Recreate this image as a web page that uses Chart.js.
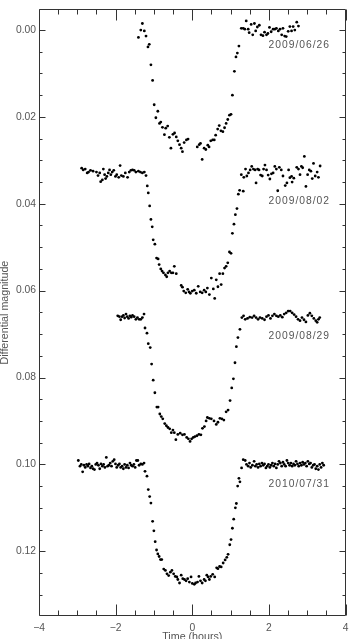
<!DOCTYPE html>
<html><head><meta charset="utf-8">
<script src="https://cdn.jsdelivr.net/npm/chart.js@4.4.1/dist/chart.umd.min.js"></script>
<style>html,body{margin:0;padding:0;background:#fff;overflow:hidden}canvas{display:block}</style>
</head><body>
<canvas id="c" width="354" height="639"></canvas>
<script>
// ---- Data (time from mid-transit in hours, differential magnitude) ----
const t0626 = [-1.406,-1.344,-1.303,-1.252,-1.208,-1.157,-1.123,-1.080,-1.036,-0.995,-0.951,-0.900,-0.856,-0.823,-0.779,-0.728,-0.694,-0.643,-0.599,-0.558,-0.506,-0.463,-0.419,-0.378,-0.334,-0.290,-0.257,-0.213,-0.154,-0.111,
  0.129,0.180,0.213,0.257,0.308,0.352,0.404,0.437,0.481,0.532,0.573,0.609,0.661,0.702,0.746,0.797,0.841,0.882,0.925,0.969,1.010,1.046,1.098,1.139,1.175,1.216,1.278,1.329,1.370,1.406,1.458,1.483,1.535,1.576,1.620,1.653,1.697,1.748,1.792,1.843,1.884,1.936,1.972,2.013,2.057,2.108,2.152,2.193,2.244,2.288,2.332,2.365,2.409,2.450,2.501,2.545,2.589,2.630,2.674,2.725,2.769];
const m0626 = [0.0017,0.0000,-0.0015,0.0002,0.0014,0.0039,0.0033,0.0080,0.0116,0.0172,0.0202,0.0187,0.0215,0.0212,0.0224,0.0241,0.0226,0.0221,0.0247,0.0272,0.0240,0.0237,0.0246,0.0255,0.0264,0.0272,0.0280,0.0259,0.0253,0.0251,
  0.0269,0.0264,0.0261,0.0298,0.0272,0.0275,0.0265,0.0269,0.0255,0.0253,0.0253,0.0242,0.0228,0.0220,0.0232,0.0234,0.0225,0.0215,0.0206,0.0196,0.0194,0.0150,0.0095,0.0062,0.0053,0.0037,-0.0004,-0.0004,-0.0002,-0.0021,-0.0002,0.0006,-0.0013,0.0011,-0.0015,0.0002,-0.0007,-0.0011,0.0011,0.0013,0.0005,0.0011,0.0008,-0.0006,0.0004,-0.0002,-0.0002,-0.0004,0.0002,-0.0002,0.0011,-0.0004,0.0014,0.0015,0.0003,-0.0008,0.0002,-0.0008,0.0000,-0.0018,-0.0009];

const t0802 = [-2.887,-2.846,-2.794,-2.743,-2.707,-2.656,-2.589,-2.501,-2.460,-2.416,-2.391,-2.347,-2.321,-2.288,-2.262,-2.229,-2.193,-2.159,-2.126,-2.090,-2.049,-2.005,-1.972,-1.920,-1.884,-1.851,-1.799,-1.748,-1.689,-1.645,-1.602,-1.560,-1.517,-1.473,-1.406,-1.355,-1.303,-1.252,-1.208,-1.175,-1.149,-1.113,-1.080,-1.046,-1.021,-0.977,-0.933,-0.892,-0.866,-0.823,-0.789,-0.753,-0.702,-0.668,-0.635,-0.591,-0.548,-0.506,-0.470,-0.419,
  -0.290,-0.257,-0.224,-0.172,-0.121,-0.085,-0.051,0.000,0.051,0.103,0.154,0.206,0.257,0.308,0.352,0.393,0.445,0.496,0.548,0.584,0.625,0.668,0.712,0.753,0.797,0.841,0.882,0.925,0.969,1.010,1.046,1.087,1.123,1.165,1.201,1.234,1.278,1.329,1.344,1.388,1.422,1.465,1.509,1.550,1.594,1.638,1.663,1.704,1.740,1.781,1.825,1.859,1.895,1.936,1.979,2.023,2.064,2.108,2.152,2.193,2.229,2.270,2.321,2.365,2.424,2.468,2.512,2.545,2.589,2.604,2.648,2.725,2.769,2.810,2.846,2.879,2.923,2.964,3.008,3.051,3.093,3.129,3.162,3.206,3.257,3.290,3.334];
const m0802 = [0.0318,0.0322,0.0320,0.0329,0.0327,0.0323,0.0325,0.0327,0.0335,0.0329,0.0349,0.0345,0.0320,0.0333,0.0342,0.0337,0.0329,0.0322,0.0333,0.0327,0.0323,0.0337,0.0333,0.0339,0.0312,0.0335,0.0337,0.0329,0.0339,0.0327,0.0323,0.0322,0.0323,0.0327,0.0325,0.0327,0.0329,0.0327,0.0335,0.0359,0.0375,0.0405,0.0436,0.0453,0.0483,0.0493,0.0525,0.0527,0.0540,0.0550,0.0555,0.0559,0.0564,0.0568,0.0559,0.0555,0.0559,0.0559,0.0544,0.0561,
  0.0588,0.0592,0.0601,0.0605,0.0597,0.0603,0.0606,0.0601,0.0599,0.0606,0.0590,0.0603,0.0605,0.0599,0.0603,0.0594,0.0609,0.0571,0.0596,0.0618,0.0575,0.0591,0.0561,0.0586,0.0561,0.0548,0.0544,0.0536,0.0511,0.0514,0.0468,0.0447,0.0425,0.0411,0.0378,0.0369,0.0333,0.0371,0.0339,0.0320,0.0336,0.0329,0.0322,0.0314,0.0320,0.0322,0.0352,0.0320,0.0322,0.0334,0.0336,0.0320,0.0311,0.0322,0.0334,0.0343,0.0331,0.0329,0.0314,0.0320,0.0370,0.0316,0.0322,0.0336,0.0358,0.0352,0.0322,0.0340,0.0337,0.0350,0.0341,0.0316,0.0320,0.0333,0.0314,0.0317,0.0291,0.0360,0.0333,0.0322,0.0325,0.0342,0.0307,0.0336,0.0327,0.0339,0.0313];

const t0829 = [-1.946,-1.902,-1.869,-1.833,-1.799,-1.766,-1.730,-1.697,-1.663,-1.627,-1.594,-1.560,-1.517,-1.473,-1.432,-1.388,-1.344,-1.303,-1.260,-1.234,-1.183,-1.149,-1.098,-1.062,-1.021,-0.977,-0.925,-0.892,-0.848,-0.810,-0.771,-0.720,-0.676,-0.635,-0.591,-0.548,-0.506,-0.470,-0.429,
  -0.378,-0.316,-0.257,-0.206,-0.147,-0.103,-0.059,-0.018,0.026,0.069,0.121,0.172,0.224,0.265,0.316,0.360,0.393,0.445,0.496,0.566,0.625,0.668,0.720,0.771,0.823,0.882,0.933,0.985,1.028,1.072,1.113,1.149,1.190,1.242,1.293,1.337,1.380,1.440,1.499,1.560,1.612,1.663,1.715,1.766,1.825,1.884,1.936,1.987,2.039,2.090,2.141,2.193,2.244,2.296,2.347,2.398,2.450,2.501,2.553,2.604,2.656,2.707,2.758,2.810,2.861,2.913,2.964,3.015,3.067,3.118,3.170,3.221,3.257,3.290,3.324];
const m0829 = [0.0658,0.0660,0.0667,0.0660,0.0657,0.0663,0.0654,0.0660,0.0664,0.0658,0.0661,0.0657,0.0660,0.0666,0.0662,0.0666,0.0666,0.0662,0.0654,0.0686,0.0698,0.0722,0.0731,0.0769,0.0806,0.0835,0.0868,0.0868,0.0884,0.0890,0.0895,0.0906,0.0911,0.0915,0.0918,0.0927,0.0921,0.0927,0.0943,
  0.0931,0.0928,0.0932,0.0931,0.0938,0.0941,0.0947,0.0941,0.0938,0.0936,0.0934,0.0931,0.0932,0.0917,0.0913,0.0900,0.0892,0.0894,0.0895,0.0900,0.0908,0.0903,0.0894,0.0895,0.0898,0.0879,0.0875,0.0853,0.0824,0.0803,0.0766,0.0729,0.0708,0.0689,0.0662,0.0658,0.0666,0.0664,0.0661,0.0662,0.0658,0.0662,0.0666,0.0662,0.0664,0.0667,0.0660,0.0657,0.0664,0.0658,0.0654,0.0658,0.0660,0.0657,0.0661,0.0654,0.0651,0.0647,0.0647,0.0651,0.0655,0.0660,0.0666,0.0669,0.0662,0.0667,0.0672,0.0657,0.0652,0.0658,0.0664,0.0669,0.0673,0.0666,0.0662];

const t1007 = [-2.974,-2.931,-2.897,-2.861,-2.828,-2.794,-2.758,-2.725,-2.692,-2.656,-2.622,-2.589,-2.553,-2.519,-2.486,-2.450,-2.416,-2.383,-2.347,-2.314,-2.280,-2.244,-2.211,-2.177,-2.141,-2.108,-2.075,-2.039,-2.005,-1.972,-1.936,-1.902,-1.869,-1.833,-1.799,-1.766,-1.730,-1.697,-1.663,-1.627,-1.594,-1.560,-1.524,-1.491,-1.458,-1.422,-1.388,-1.344,-1.303,-1.260,-1.234,-1.183,-1.149,-1.113,-1.080,-1.036,-1.003,-0.969,-0.933,-0.900,-0.866,-0.830,-0.797,-0.746,-0.702,-0.661,-0.617,-0.573,-0.532,-0.488,-0.445,-0.404,
  -0.378,-0.334,-0.290,-0.249,-0.206,-0.162,-0.121,-0.077,-0.033,0.000,0.051,0.085,0.136,0.172,0.213,0.257,0.308,0.342,0.378,0.411,0.445,0.481,0.532,0.584,0.635,0.668,0.712,0.753,0.805,0.856,0.900,0.933,0.977,1.010,1.046,1.080,1.123,1.149,1.183,1.216,1.242,1.285,1.329,1.380,1.414,1.458,1.491,1.524,1.568,1.612,1.645,1.679,1.715,1.748,1.781,1.817,1.851,1.884,1.920,1.954,1.987,2.023,2.057,2.090,2.126,2.159,2.193,2.229,2.262,2.296,2.332,2.365,2.398,2.434,2.468,2.501,2.537,2.571,2.604,2.640,2.674,2.707,2.743,2.776,2.810,2.846,2.879,2.913,2.949,2.982,3.015,3.051,3.085,3.118,3.154,3.188,3.221,3.257,3.290,3.324,3.360,3.393,3.427];
const m1007 = [0.0991,0.1004,0.1000,0.1017,0.1002,0.1007,0.1000,0.1004,0.0999,0.1008,0.1004,0.1010,0.1012,0.1000,0.0997,0.1002,0.1010,0.0999,0.1004,0.1000,0.1007,0.0984,0.1004,0.1002,0.0997,0.1004,0.0993,0.0989,0.0999,0.1007,0.1002,0.0999,0.1007,0.1004,0.1010,0.1000,0.1007,0.1002,0.1008,0.0997,0.1002,0.1004,0.1000,0.1007,0.0991,0.0991,0.1002,0.0999,0.1000,0.0997,0.1016,0.1027,0.1058,0.1074,0.1089,0.1131,0.1153,0.1178,0.1197,0.1206,0.1212,0.1219,0.1219,0.1241,0.1244,0.1252,0.1256,0.1248,0.1244,0.1252,0.1258,0.1259,
  0.1265,0.1273,0.1255,0.1263,0.1265,0.1268,0.1263,0.1271,0.1259,0.1274,0.1276,0.1273,0.1271,0.1258,0.1268,0.1273,0.1265,0.1268,0.1255,0.1259,0.1265,0.1258,0.1253,0.1259,0.1238,0.1240,0.1235,0.1236,0.1227,0.1220,0.1214,0.1207,0.1185,0.1173,0.1147,0.1126,0.1100,0.1090,0.1050,0.1032,0.1040,0.1008,0.0989,0.0991,0.1000,0.1004,0.0997,0.1007,0.1002,0.0993,0.1004,0.1000,0.1007,0.0999,0.1004,0.0997,0.1002,0.0999,0.1008,0.1004,0.1000,0.1007,0.1002,0.0997,0.1004,0.0999,0.1008,0.1000,0.0993,0.0997,0.1004,0.0995,0.1000,0.1004,0.0991,0.0997,0.1002,0.0997,0.1004,0.0999,0.1002,0.0993,0.0999,0.1004,0.0997,0.1002,0.0995,0.1000,0.0997,0.1004,0.0993,0.0999,0.0997,0.1007,0.1002,0.1000,0.1010,0.1004,0.1012,0.1000,0.1007,0.0997,0.1002];

const nightLabels = ['2009/06/26','2009/08/02','2009/08/29','2010/07/31'];
const labelTime = [2.79, 2.79, 2.79, 2.79];
const labelMag = [0.0034, 0.0394, 0.0704, 0.1046];

const xTickValues = [-4, -2, 0, 2, 4];
const xTickLabels = ['\u22124', '\u22122', '0', '2', '4'];
const yTickValues = [0, 0.02, 0.04, 0.06, 0.08, 0.10, 0.12];
const yTickLabels = ['0.00', '0.02', '0.04', '0.06', '0.08', '0.10', '0.12'];

// ---- Build ----
const nights = [[t0626, m0626], [t0802, m0802], [t0829, m0829], [t1007, m1007]];
const datasets = nights.map((n, i) => ({
  label: nightLabels[i],
  data: n[0].map((t, k) => ({x: t, y: n[1][k]})),
  pointRadius: 1.4,
  pointHoverRadius: 1.4,
  pointBackgroundColor: '#000',
  pointBorderWidth: 0,
  showLine: false
}));

const FONT = '"Liberation Sans", Arial, Helvetica, sans-serif';
const TXT = '#555';
const AX = '#333';

const framePlugin = {
  id: 'frame',
  afterDatasetsDraw(chart) {
    const {ctx, chartArea: a, scales: {x, y}} = chart;
    ctx.save();
    ctx.strokeStyle = AX;
    ctx.lineWidth = 1;
    const L = Math.round(a.left) + 0.5, R = Math.round(a.right) - 0.5;
    const T = Math.round(a.top) + 0.5, B = Math.round(a.bottom) - 0.5;
    ctx.beginPath();
    ctx.rect(L, T, R - L, B - T);
    // x ticks every 0.5 h
    for (let k = -8; k <= 8; k++) {
      const v = k * 0.5;
      const px = Math.round(x.getPixelForValue(v)) + 0.5;
      const len = (k % 4 === 0) ? 11 : 5;
      ctx.moveTo(px, B); ctx.lineTo(px, B - len);
      ctx.moveTo(px, T); ctx.lineTo(px, T + len);
    }
    // y ticks every 0.005 mag
    for (let k = 0; k <= 27; k++) {
      const v = k * 0.005;
      const py = Math.round(y.getPixelForValue(v)) + 0.5;
      if (py < T || py > B) continue;
      const len = (k % 4 === 0) ? 6 : 3;
      ctx.moveTo(L, py); ctx.lineTo(L + len, py);
      ctx.moveTo(R, py); ctx.lineTo(R - len, py);
    }
    ctx.stroke();
    // night labels
    ctx.fillStyle = TXT;
    ctx.font = '10.3px ' + FONT;
    ctx.letterSpacing = '1px';
    ctx.textAlign = 'center';
    ctx.textBaseline = 'middle';
    nightLabels.forEach((s, i) => {
      ctx.fillText(s, x.getPixelForValue(labelTime[i]), y.getPixelForValue(labelMag[i]));
    });
    ctx.restore();
  }
};

new Chart(document.getElementById('c'), {
  type: 'scatter',
  data: {datasets},
  plugins: [framePlugin],
  options: {
    responsive: false,
    animation: false,
    events: [],
    layout: {padding: {top: 4, right: 4, bottom: 0, left: 0}},
    plugins: {legend: {display: false}, tooltip: {enabled: false}},
    scales: {
      x: {
        type: 'linear', position: 'bottom', min: -4, max: 4,
        afterBuildTicks: s => { s.ticks = xTickValues.map(v => ({value: v})); },
        afterFit: s => { s.height = 23; },
        ticks: {
          callback: v => xTickLabels[xTickValues.indexOf(v)],
          font: {family: FONT, size: 10.3}, color: TXT, padding: 5.5,
          maxRotation: 0, autoSkip: false
        },
        grid: {display: false, drawTicks: false},
        border: {display: false},
        title: {display: true, text: 'Time (hours)', font: {family: FONT, size: 10.7}, color: TXT,
                padding: {top: 0, bottom: -4.9}}
      },
      y: {
        type: 'linear', position: 'left', reverse: true, min: -0.0048, max: 0.1349,
        afterBuildTicks: s => { s.ticks = yTickValues.map(v => ({value: v})); },
        afterFit: s => { s.width = 39; },
        ticks: {
          callback: v => yTickLabels[yTickValues.findIndex(t => Math.abs(t - v) < 1e-9)],
          font: {family: FONT, size: 10.3}, color: TXT, padding: 3, autoSkip: false
        },
        grid: {display: false, drawTicks: false},
        border: {display: false},
        title: {display: true, text: 'Differential magnitude', font: {family: FONT, size: 10.7}, color: TXT,
                padding: {top: -1.4, bottom: 0}}
      }
    }
  }
});
</script>
</body></html>
